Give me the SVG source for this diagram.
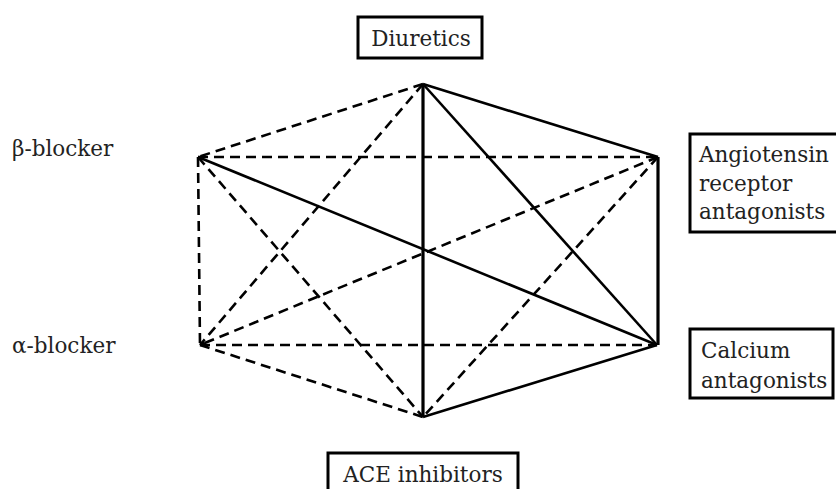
<svg xmlns="http://www.w3.org/2000/svg" width="836" height="489" viewBox="0 0 836 489">
<defs>
<marker id="ah" viewBox="0 0 10 10" refX="9" refY="5" markerWidth="6" markerHeight="6" orient="auto" markerUnits="userSpaceOnUse">
<path d="M0,0 L10,5 L0,10 z" fill="#000"/>
</marker>
<style>
.s{stroke:#000;stroke-width:2.6;fill:none}
.d{stroke:#000;stroke-width:2.6;fill:none;stroke-dasharray:10 6}
.box{fill:#fff;stroke:#000;stroke-width:3}
.t{font-family:"DejaVu Serif","Liberation Serif",serif;font-size:21.5px;fill:#222}
</style>
</defs>
<rect width="836" height="489" fill="#fff"/>
<g id="connectors">
<line class="s" x1="423" y1="84" x2="658" y2="157"/>
<line class="s" x1="423" y1="84" x2="657" y2="345"/>
<line class="s" x1="423" y1="84" x2="423" y2="417" style="stroke-width:3.2"/>
<line class="s" x1="658" y1="157" x2="658" y2="345" style="stroke-width:3.2"/>
<line class="s" x1="657" y1="345" x2="198" y2="157" marker-end="url(#ah)"/>
<line class="s" x1="657" y1="345" x2="423" y2="417"/>
<line class="d" x1="423" y1="84" x2="198" y2="157"/>
<line class="d" x1="423" y1="84" x2="200" y2="345"/>
<line class="d" x1="198" y1="157" x2="658" y2="157"/>
<line class="d" x1="198" y1="157" x2="200" y2="345"/>
<line class="d" x1="198" y1="157" x2="423" y2="417"/>
<line class="d" x1="658" y1="157" x2="200" y2="345" marker-end="url(#ah)"/>
<line class="d" x1="200" y1="345" x2="657" y2="345"/>
<line class="d" x1="200" y1="345" x2="423" y2="417"/>
<line class="d" x1="658" y1="157" x2="423" y2="417"/>
</g>
<g id="diuretics">
<rect class="box" x="358" y="17" width="124" height="41"/>
<text class="t" x="421" y="46" text-anchor="middle">Diuretics</text>
</g>
<g id="beta-blocker">
<text class="t" x="12" y="156">β-blocker</text>
</g>
<g id="angiotensin">
<rect class="box" x="690" y="134" width="150" height="98"/>
<text class="t" x="699" y="162">Angiotensin</text>
<text class="t" x="699" y="191">receptor</text>
<text class="t" x="699" y="219">antagonists</text>
</g>
<g id="alpha-blocker">
<text class="t" x="12" y="353">α-blocker</text>
</g>
<g id="calcium">
<rect class="box" x="690" y="329" width="143" height="69"/>
<text class="t" x="701" y="358">Calcium</text>
<text class="t" x="701" y="388">antagonists</text>
</g>
<g id="ace">
<rect class="box" x="328" y="453" width="190" height="45"/>
<text class="t" x="423" y="482" text-anchor="middle">ACE inhibitors</text>
</g>
</svg>
